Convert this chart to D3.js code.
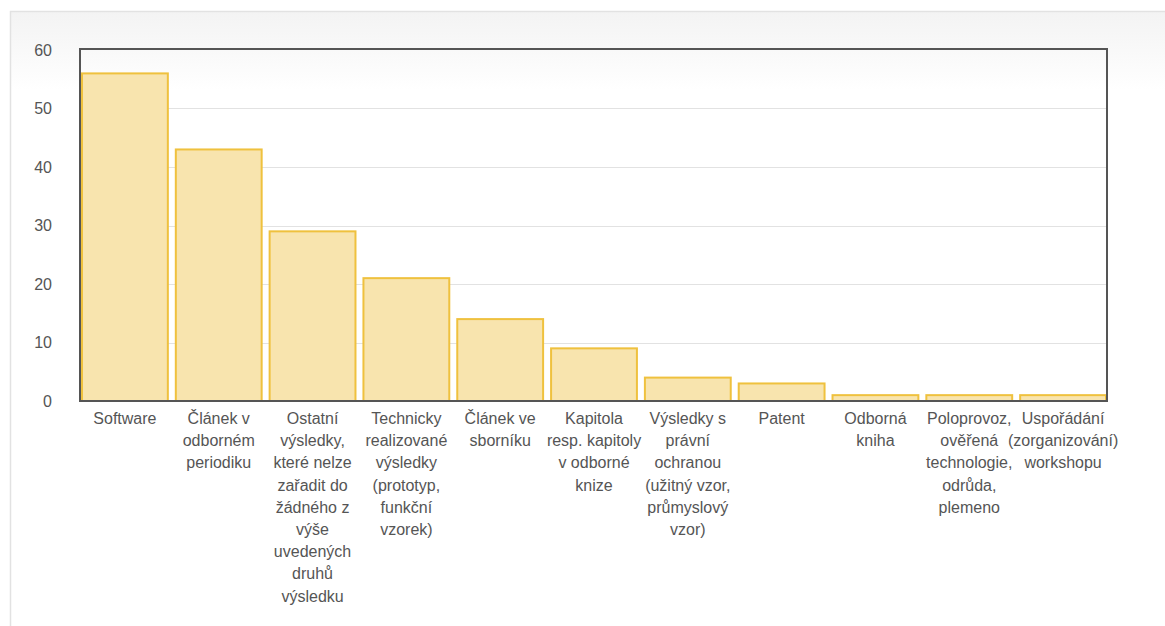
<!DOCTYPE html>
<html><head><meta charset="utf-8">
<script src="https://cdn.jsdelivr.net/npm/d3@7"></script>
<style>body{margin:0;background:#fff;}svg{display:block;font-family:"Liberation Sans",Arial,sans-serif;}</style>
</head><body>
<svg id="c" width="1165" height="626"></svg>
<script>
const categories = [
  "Software",
  "Článek v\nodborném\nperiodiku",
  "Ostatní\nvýsledky,\nkteré nelze\nzařadit do\nžádného z\nvýše\nuvedených\ndruhů\nvýsledku",
  "Technicky\nrealizované\nvýsledky\n(prototyp,\nfunkční\nvzorek)",
  "Článek ve\nsborníku",
  "Kapitola\nresp. kapitoly\nv odborné\nknize",
  "Výsledky s\nprávní\nochranou\n(užitný vzor,\nprůmyslový\nvzor)",
  "Patent",
  "Odborná\nkniha",
  "Poloprovoz,\nověřená\ntechnologie,\nodrůda,\nplemeno",
  "Uspořádání\n(zorganizování)\nworkshopu"
];
const values = [56, 43, 29, 21, 14, 9, 4, 3, 1, 1, 1];
const yTicks = [0, 10, 20, 30, 40, 50, 60];

const svg = d3.select("#c");
const defs = svg.append("defs");
const g = defs.append("linearGradient").attr("id","bg").attr("x1",0).attr("x2",0)
  .attr("gradientUnits","userSpaceOnUse").attr("y1",11).attr("y2",90);
g.append("stop").attr("offset",0).attr("stop-color","#f3f3f3");
g.append("stop").attr("offset",1).attr("stop-color","#ffffff");

svg.append("rect").attr("x",10.5).attr("y",11.5).attr("width",1200).attr("height",700)
  .attr("fill","url(#bg)").attr("stroke","#e2e2e2").attr("stroke-width",1.5);

const L = 81, R = 1106, T = 50, B = 401;
const x = d3.scaleBand().domain(categories).range([L+1, R]).paddingInner(0.085).paddingOuter(0);
const y = d3.scaleLinear().domain([0, 60]).range([B, T]);

// grid
svg.append("g").selectAll("line").data(yTicks.slice(1,-1)).join("line")
  .attr("x1", L).attr("x2", R).attr("y1", d => Math.round(y(d))+0.5).attr("y2", d => Math.round(y(d))+0.5)
  .attr("stroke", "#e2e2e2").attr("stroke-width", 1);

// bars
svg.append("g").selectAll("rect").data(values).join("rect")
  .attr("x", (d,i) => x(categories[i]))
  .attr("width", x.bandwidth())
  .attr("y", d => y(d))
  .attr("height", d => B - y(d))
  .attr("fill", "#f8e4ae")
  .attr("stroke", "#efc13e")
  .attr("stroke-width", 2);

// frame
svg.append("rect").attr("x", L-1).attr("y", T-1).attr("width", R - L + 2).attr("height", B - T + 1)
  .attr("fill","none").attr("stroke","#555").attr("stroke-width",2);

// y axis
const ya = svg.append("g").attr("transform", `translate(${L-1},0)`)
  .call(d3.axisLeft(y).tickValues(yTicks).tickSize(0).tickPadding(28));
ya.select(".domain").remove();
ya.selectAll("text").attr("fill","#555").style("font-size","16px").style("font-family","Liberation Sans, Arial, sans-serif");

// x labels
const xa = svg.append("g").attr("transform", `translate(0,${B})`)
  .call(d3.axisBottom(x).tickSize(0).tickFormat(""));
xa.select(".domain").remove();
xa.selectAll(".tick").each(function(d){
  const t = d3.select(this).append("text").attr("fill","#555").attr("text-anchor","middle")
    .style("font-size","16px").style("font-family","Liberation Sans, Arial, sans-serif");
  d.split("\n").forEach((line, k) => {
    t.append("tspan").attr("x", 0).attr("y", 23 + k*22.2).text(line);
  });
});
</script>
</body></html>
